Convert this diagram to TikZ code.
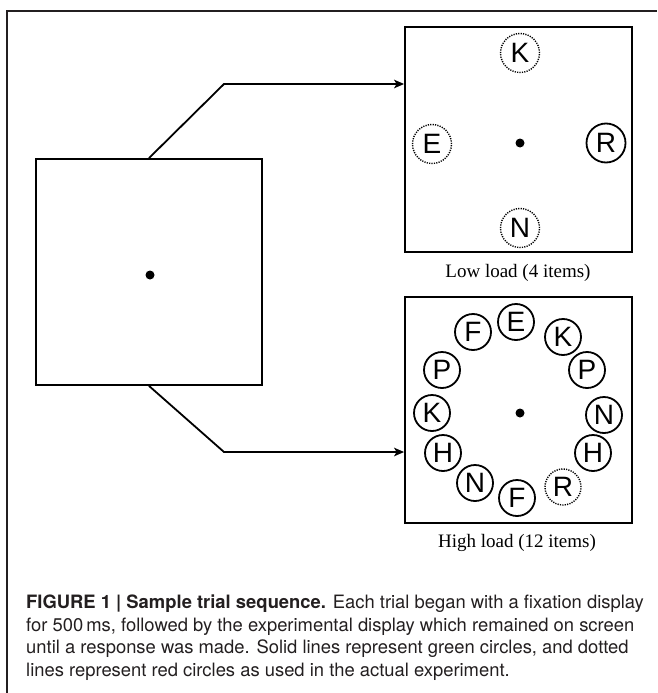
\documentclass[tikz,border=0pt]{standalone}
\usepackage{fontspec}
\setmainfont{Liberation Serif}
\newfontfamily\lettersf{Liberation Sans}
\newfontfamily\capsf{TeX Gyre Heros}
\usetikzlibrary{arrows.meta}
\definecolor{captext}{RGB}{35,31,32}

\tikzset{
  screen/.style={draw, line width=1.8pt, inner sep=0pt, minimum width=227pt, minimum height=225pt},
  fixdot/.style={circle, fill, inner sep=0pt, minimum size=9pt},
  item/.style={circle, draw, line width=1.8pt, inner sep=0pt, minimum size=36pt,
    font=\lettersf\fontsize{28}{28}\selectfont},
  bigitem/.style={item, minimum size=39pt},
  reditem/.style={line width=1.4pt, dash pattern=on 1.2pt off 1.2pt},
  link/.style={draw, line width=1.8pt, -{Stealth[length=10pt,width=8.5pt,inset=2.5pt]}},
  condlabel/.style={anchor=base, inner sep=0pt, font=\fontsize{19}{19}\selectfont},
  capline/.style={anchor=base west, inner sep=0pt, text=captext,
    font=\capsf\fontsize{18.4}{22}\selectfont}
}

\begin{document}
\begin{tikzpicture}[x=1pt, y=-1pt]
\useasboundingbox (0,0) rectangle (657,693);

% panel frame (open towards the right and bottom)
\draw[line width=1.6pt, captext] (7,693) -- (7,11) -- (657,11);

% fixation display
\node[screen, minimum height=226pt, minimum width=226pt] (fix) at (149,272) {};
\node[fixdot] (fixdot) at (150,275) {};

% low-load display
\node[screen] (low) at (518.5,139.5) {};
\node[fixdot] (lowdot) at (520,143) {};
\node[bigitem, reditem] (lK) at (520,53) {K};
\node[bigitem, reditem] (lE) at (432,144) {E};
\node[bigitem] (lR) at (606,143) {R};
\node[bigitem, reditem] (lN) at (520,228) {N};
\node[condlabel] (lowlabel) at (518,277) {Low load (4 items)};

% high-load display
\node[screen, minimum height=226pt] (high) at (518.5,410) {};
\node[fixdot] (highdot) at (520,413) {};
\node[item] (h1) at (516,322) {E};
\node[item] (h2) at (563,337) {K};
\node[item] (h3) at (587,370) {P};
\node[item] (h4) at (604,415) {N};
\node[item] (h5) at (593,453) {H};
\node[item, reditem] (h6) at (563,487) {R};
\node[item] (h7) at (517,498) {F};
\node[item] (h8) at (475,483) {N};
\node[item] (h9) at (443,453) {H};
\node[item] (h10) at (432,413) {K};
\node[item] (h11) at (442,370) {P};
\node[item] (h12) at (473,332) {F};
\node[condlabel] (highlabel) at (517,547) {High load (12 items)};

% transitions from fixation to the two displays
\coordinate (up) at (224,84);
\coordinate (down) at (224,452);
\draw[link] (fix.north) -- (up) -- (up -| low.west);
\draw[link] (fix.south) -- (down) -- (down -| high.west);

% caption
\node[capline] (cap1) at (26,608) {\textbf{FIGURE 1 | Sample trial sequence.} Each trial began with a fixation display};
\node[capline] (cap2) at (26,631) {for 500\,ms, followed by the experimental display which remained on screen};
\node[capline] (cap3) at (26,653) {until a response was made. Solid lines represent green circles, and dotted};
\node[capline] (cap4) at (26,676) {lines represent red circles as used in the actual experiment.};
\end{tikzpicture}
\end{document}
